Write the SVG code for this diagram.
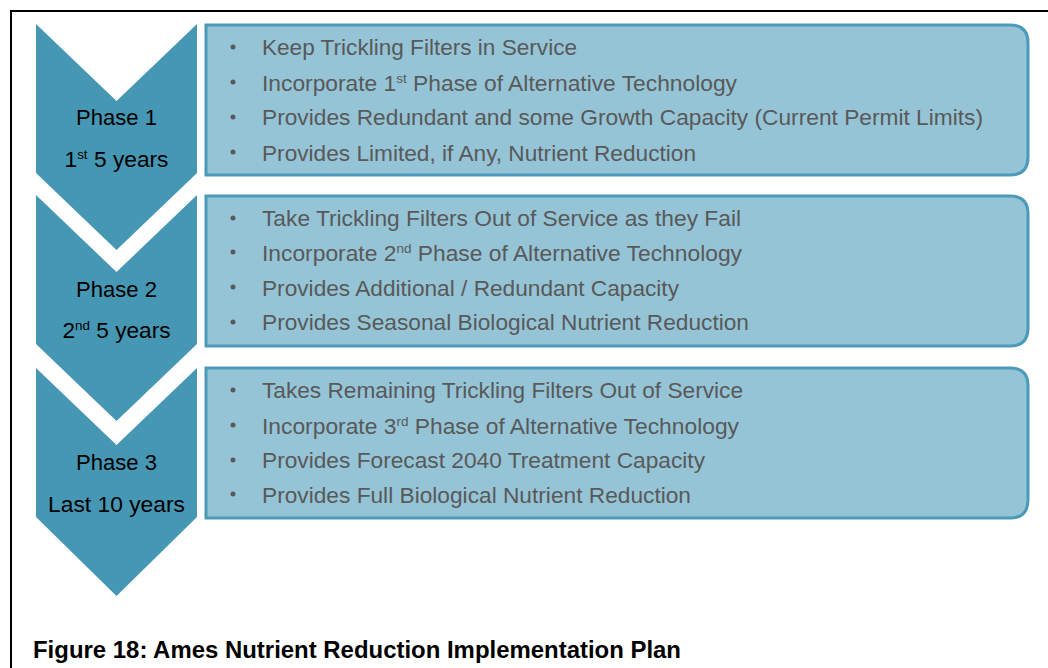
<svg xmlns="http://www.w3.org/2000/svg" width="1048" height="668" viewBox="0 0 1048 668">
<style>
.chev{fill:#4697B4}
.box{fill:#95C4D6;stroke:#4A9AB8;stroke-width:3}
.ph{font-family:"Liberation Sans",Arial,sans-serif;font-size:22px;fill:#000;text-anchor:middle}
.bt{font-family:"Liberation Sans",Arial,sans-serif;font-size:22px;fill:#595959}
.bul{fill:#595959}
.sup{font-size:13px}
.cap{font-family:"Liberation Sans",Arial,sans-serif;font-size:23px;font-weight:bold;fill:#000}
</style>
<rect x="0" y="0" width="1048" height="668" fill="#fff"/>
<path d="M11,700 L11,11 L1060,11" fill="none" stroke="#000" stroke-width="2"/>
<g id="phase1">
<path class="chev" d="M36,24 L116.5,101 L197,24 L197,173 L116.5,250 L36,173 Z"/>
<text class="ph" x="116.5" y="125" textLength="81" lengthAdjust="spacingAndGlyphs">Phase 1</text>
<text class="ph" x="116.5" y="167" textLength="104" lengthAdjust="spacingAndGlyphs">1<tspan class="sup" dy="-8">st</tspan><tspan dy="8"> 5 years</tspan></text>
</g>
<g id="phase2">
<path class="chev" d="M36,195 L116.5,272 L197,195 L197,344 L116.5,421 L36,344 Z"/>
<text class="ph" x="116.5" y="297" textLength="81" lengthAdjust="spacingAndGlyphs">Phase 2</text>
<text class="ph" x="116.5" y="338" textLength="108" lengthAdjust="spacingAndGlyphs">2<tspan class="sup" dy="-8">nd</tspan><tspan dy="8"> 5 years</tspan></text>
</g>
<g id="phase3">
<path class="chev" d="M36,368 L116.5,445 L197,368 L197,517 L116.5,596 L36,517 Z"/>
<text class="ph" x="116.5" y="470" textLength="81" lengthAdjust="spacingAndGlyphs">Phase 3</text>
<text class="ph" x="116.5" y="512" textLength="137" lengthAdjust="spacingAndGlyphs">Last 10 years</text>
</g>
<g id="box1">
<path class="box" d="M206,25 L1010,25 Q1028,25 1028,43 L1028,157 Q1028,175 1010,175 L206,175 Z"/>
<circle class="bul" cx="233" cy="47" r="2.5"/><circle class="bul" cx="233" cy="82" r="2.5"/><circle class="bul" cx="233" cy="117" r="2.5"/><circle class="bul" cx="233" cy="152" r="2.5"/>
<text class="bt" x="262" y="55" textLength="315" lengthAdjust="spacingAndGlyphs">Keep Trickling Filters in Service</text>
<text class="bt" x="262" y="91" textLength="475" lengthAdjust="spacingAndGlyphs">Incorporate 1<tspan class="sup" dy="-8">st</tspan><tspan dy="8"> Phase of Alternative Technology</tspan></text>
<text class="bt" x="262" y="125" textLength="721" lengthAdjust="spacingAndGlyphs">Provides Redundant and some Growth Capacity (Current Permit Limits)</text>
<text class="bt" x="262" y="161" textLength="434" lengthAdjust="spacingAndGlyphs">Provides Limited, if Any, Nutrient Reduction</text>
</g>
<g id="box2">
<path class="box" d="M206,196 L1010,196 Q1028,196 1028,214 L1028,328 Q1028,346 1010,346 L206,346 Z"/>
<circle class="bul" cx="233" cy="218" r="2.5"/><circle class="bul" cx="233" cy="252" r="2.5"/><circle class="bul" cx="233" cy="287" r="2.5"/><circle class="bul" cx="233" cy="322" r="2.5"/>
<text class="bt" x="262" y="226" textLength="479" lengthAdjust="spacingAndGlyphs">Take Trickling Filters Out of Service as they Fail</text>
<text class="bt" x="262" y="261" textLength="480" lengthAdjust="spacingAndGlyphs">Incorporate 2<tspan class="sup" dy="-8">nd</tspan><tspan dy="8"> Phase of Alternative Technology</tspan></text>
<text class="bt" x="262" y="296" textLength="417" lengthAdjust="spacingAndGlyphs">Provides Additional / Redundant Capacity</text>
<text class="bt" x="262" y="330" textLength="487" lengthAdjust="spacingAndGlyphs">Provides Seasonal Biological Nutrient Reduction</text>
</g>
<g id="box3">
<path class="box" d="M206,368 L1010,368 Q1028,368 1028,386 L1028,500 Q1028,518 1010,518 L206,518 Z"/>
<circle class="bul" cx="233" cy="390" r="2.5"/><circle class="bul" cx="233" cy="425" r="2.5"/><circle class="bul" cx="233" cy="460" r="2.5"/><circle class="bul" cx="233" cy="494" r="2.5"/>
<text class="bt" x="262" y="398" textLength="481" lengthAdjust="spacingAndGlyphs">Takes Remaining Trickling Filters Out of Service</text>
<text class="bt" x="262" y="434" textLength="477" lengthAdjust="spacingAndGlyphs">Incorporate 3<tspan class="sup" dy="-8">rd</tspan><tspan dy="8"> Phase of Alternative Technology</tspan></text>
<text class="bt" x="262" y="468" textLength="443" lengthAdjust="spacingAndGlyphs">Provides Forecast 2040 Treatment Capacity</text>
<text class="bt" x="262" y="503" textLength="429" lengthAdjust="spacingAndGlyphs">Provides Full Biological Nutrient Reduction</text>
</g>
<g id="connectors"></g>
<text class="cap" x="33" y="658" textLength="648" lengthAdjust="spacingAndGlyphs">Figure 18: Ames Nutrient Reduction Implementation Plan</text>
</svg>
